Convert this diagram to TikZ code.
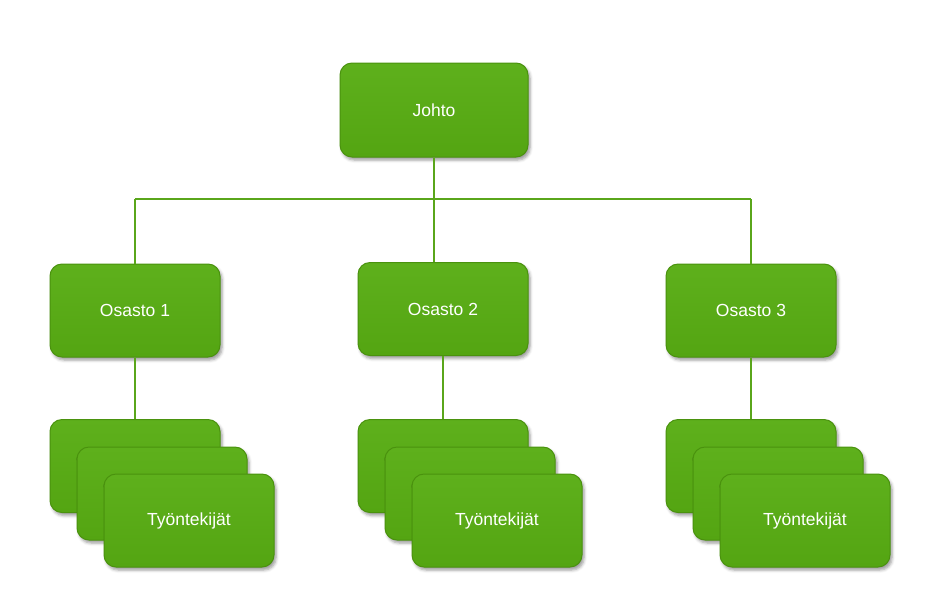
\documentclass[tikz,border=0pt]{standalone}
\usepackage{fontspec}
\setmainfont{Liberation Sans}
\usetikzlibrary{shadows.blur}
\definecolor{boxfill}{HTML}{54A512}
\definecolor{boxtop}{HTML}{5EB01C}
\definecolor{boxedge}{HTML}{4A920E}
\definecolor{linegreen}{HTML}{5AA61B}
\tikzset{
  gbox/.style={rounded corners=12pt, draw=boxedge, line width=1pt,
    top color=boxtop, bottom color=boxfill, minimum width=170pt, minimum height=93pt,
    text=white, font=\fontsize{17.5}{21}\selectfont, inner sep=0pt,
    blur shadow={shadow xshift=2pt, shadow yshift=-3pt, shadow blur radius=3pt, shadow opacity=40}},
  link/.style={draw=linegreen, line width=1.5pt}
}
\begin{document}
\begin{tikzpicture}[x=1pt,y=-1pt]
\useasboundingbox (0,0) rectangle (941,600);
% top
\node[gbox, minimum width=188pt, minimum height=94pt] (johto) at (434,110) {Johto};
\node[gbox] (o1) at (135,310.5) {Osasto 1};
\node[gbox] (o2) at (443,309) {Osasto 2};
\node[gbox] (o3) at (751,310.5) {Osasto 3};
\coordinate (bar) at (434,199);
\coordinate (l1) at (135,199);
\coordinate (l3) at (751,199);
\draw[link] (johto.south) -- (johto.south |- o2.north);
\draw[link] (l1) -- (l3);
\draw[link] (l1) -- (o1.north);
\draw[link] (l3) -- (o3.north);
% stacks
\foreach \i/\x in {1/135, 2/443, 3/751} {
  \node[gbox] (a\i) at (\x,466) {};
  \node[gbox] (b\i) at (\x+27,493.5) {};
  \node[gbox] (c\i) at (\x+54,520.5) {Työntekijät};
}
\draw[link] (o1.south) -- (a1.north);
\draw[link] (o2.south) -- (a2.north);
\draw[link] (o3.south) -- (a3.north);
\end{tikzpicture}
\end{document}
